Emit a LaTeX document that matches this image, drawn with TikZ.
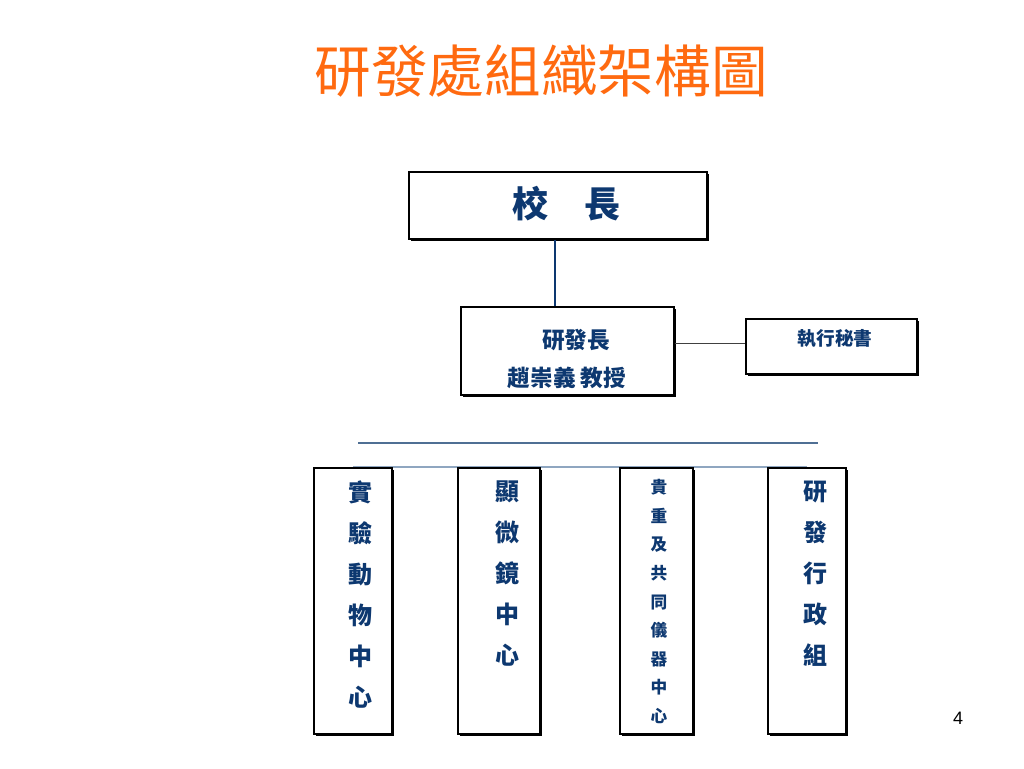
\documentclass[tikz,border=0pt]{standalone}
\usepackage{fontspec}
\setmainfont{Liberation Sans}
\newfontfamily\cjk{Noto Sans CJK TC}
\usetikzlibrary{shadows}
\definecolor{navy}{HTML}{0D3870}
\definecolor{titleorange}{HTML}{FF6A10}
\definecolor{ruleblue}{HTML}{4F6F94}
\definecolor{busblue}{HTML}{8FA6C0}
\definecolor{linkgray}{HTML}{404040}
\tikzset{
  box/.style={draw=black, fill=white, line width=1.1pt, inner sep=0pt,
    drop shadow={shadow xshift=1.2pt, shadow yshift=-1.2pt, opacity=1, fill=black}},
  boxtext/.style={text=navy, inner sep=0pt, align=center},
  link/.style={draw=navy, line width=0.8pt},
}
\begin{document}
\begin{tikzpicture}[x=0.75pt,y=-0.75pt]
\useasboundingbox[fill=white] (0,0) rectangle (1024,768);
% title
\node[text=titleorange, inner sep=0pt, font=\cjk\fontsize{42.5pt}{46pt}\selectfont] (title) at (541,71) {研發處組織架構圖};
% coordinates for connectors
\coordinate (v) at (555,0);
\coordinate (h) at (0,343);
\coordinate (r1) at (358,443);
\coordinate (r2) at (818,443);
% boxes
\node[box, minimum width={298*0.75pt}, minimum height={67*0.75pt}] (xz) at (558,205.5) {};
\node[box, minimum width={213*0.75pt}, minimum height={88*0.75pt}] (yf) at (567.5,351) {};
\node[box, minimum width={171*0.75pt}, minimum height={55*0.75pt}] (ms) at (831.5,346.5) {};
% connectors
\draw[link] (xz.south -| v) -- (yf.north -| v);
\draw[draw=linkgray, line width=0.7pt] (yf.east |- h) -- (ms.west |- h);
\draw[draw=ruleblue, line width=0.9pt] (r1) -- (r2);
% column boxes
\coordinate (c1n) at (353,467);
\coordinate (c4n) at (807,467);
\draw[draw=busblue, line width=1pt] (c1n) -- (c4n);
\node[box, minimum width={78*0.75pt}, minimum height={266*0.75pt}] (c1) at (353,601) {};
\node[box, minimum width={82*0.75pt}, minimum height={266*0.75pt}] (c2) at (499,601) {};
\node[box, minimum width={73*0.75pt}, minimum height={266*0.75pt}] (c3) at (656.5,601) {};
\node[box, minimum width={78*0.75pt}, minimum height={266*0.75pt}] (c4) at (807,601) {};
% texts
\node[boxtext, font=\cjk\bfseries\fontsize{27pt}{32pt}\selectfont] (t0) at (566,204) {校　長};
\node[boxtext, font=\cjk\bfseries\fontsize{17pt}{20pt}\selectfont] (t1a) at (576,340) {研發長};
\node[boxtext, font=\cjk\bfseries\fontsize{17pt}{20pt}\selectfont] (t1b) at (567,378) {趙崇義 教授};
\node[boxtext, font=\cjk\bfseries\fontsize{14pt}{16pt}\selectfont] (t2) at (835,339) {執行秘書};
\node[boxtext, font=\cjk\bfseries\fontsize{18pt}{30.75pt}\selectfont] (tc1) at (360,594.5) {實\\驗\\動\\物\\中\\心};
\node[boxtext, font=\cjk\bfseries\fontsize{18pt}{30.75pt}\selectfont] (tc2) at (507,573.5) {顯\\微\\鏡\\中\\心};
\node[boxtext, font=\cjk\bfseries\fontsize{12.5pt}{21.45pt}\selectfont] (tc3) at (659,601.5) {貴\\重\\及\\共\\同\\儀\\器\\中\\心};
\node[boxtext, font=\cjk\bfseries\fontsize{18pt}{30.75pt}\selectfont] (tc4) at (815,573.5) {研\\發\\行\\政\\組};
% page number
\node[inner sep=0pt, font=\fontsize{13.5pt}{16pt}\selectfont] (pg) at (958,718) {4};
\end{tikzpicture}
\end{document}
